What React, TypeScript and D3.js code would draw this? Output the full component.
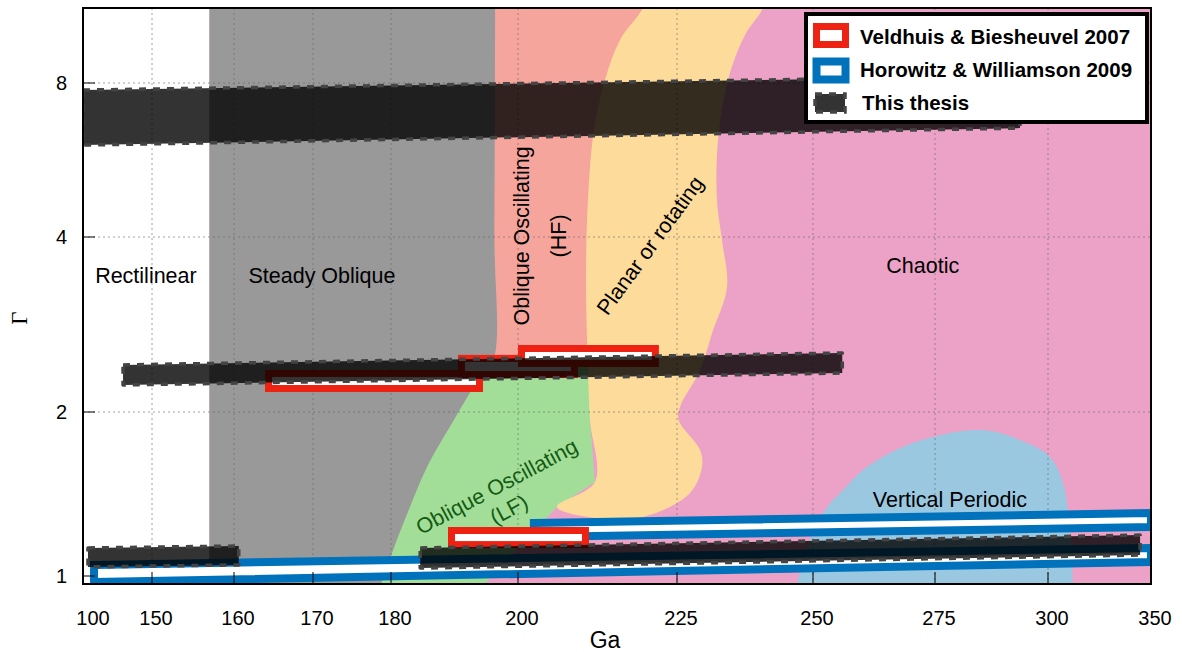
import React from 'react';
import * as d3 from 'd3';

// ---------- data ----------
const xTicks = [100, 150, 160, 170, 180, 200, 225, 250, 275, 300, 350];
const yTicks = [1, 2, 4, 8];

type P = [number, number]; // [Ga, Gamma]

const rectilinearLimit = 157;
const steadyObliqueEdge: P[] = [[196.4, 13], [196.3, 4], [196.07, 2.44], [193.23, 2.226], [190.08, 1.95], [185.67, 1.585], [182.99, 1.339], [180.63, 1.14], [178.2, 0.92]];
const hfRegion: P[] = [[190, 13], [222, 13], [222, 2.42], [190, 2.42]];
const lfRegion: P[] = [[175, 2.42], [211.3, 2.42], [211.32, 1.934], [212.1, 1.488], [206.13, 1.339], [193, 0.92], [175, 0.92]];
const planarRegion: P[] = [[221.5, 13], [219.65, 11.21], [216.03, 9.71], [213.68, 8.11], [211.95, 6.48], [211.0, 4.72], [210.69, 3.37], [211.0, 2.38], [211.32, 1.934], [212.1, 1.488], [206.13, 1.339], [214.93, 1.27], [221.22, 1.3], [227.39, 1.42], [229.6, 1.585], [229.23, 1.703], [225.3, 1.934], [225.55, 2.04], [229.23, 2.36], [231.43, 2.73], [234.19, 3.28], [233.27, 3.95], [232.35, 4.72], [232.54, 6.19], [234.37, 8.11], [237.5, 9.93], [240.8, 11.21], [242.5, 13]];
const verticalPeriodicRegion: P[] = [[246.5, 0.9], [248.16, 1.07], [252.05, 1.305], [256.56, 1.45], [261.06, 1.585], [270.49, 1.754], [284.95, 1.853], [293.8, 1.777], [300.97, 1.654], [306.8, 1.5], [309.2, 1.361], [311.16, 1.14], [312.3, 0.9]];

// "This thesis" bands: Ga range, gamma at top (left,right), bottom (left,right)
const thesisGa: P[] = [[100, 293.8], [129, 256], [103.6, 160.6], [184.6, 344.7]];
const thesisTop: P[] = [[7.75, 8.25], [2.41, 2.527], [1.126, 1.135], [1.126, 1.189]];
const thesisBottom: P[] = [[6.05, 6.53], [2.226, 2.334], [1.039, 1.048], [1.034, 1.093]];

// Veldhuis & Biesheuvel 2007 boxes: Ga range, Gamma range
const veldhuisGa: P[] = [[164.37, 193.94], [191.1, 208.88], [200.55, 221.6], [189.53, 210.61]];
const veldhuisGamma: P[] = [[2.195, 2.33], [2.32, 2.473], [2.424, 2.572], [1.142, 1.212]];

// Horowitz & Williamson 2009 boxes
const horowitzGa: P[] = [[108, 350], [202.5, 350]];
const horowitzTop: P[] = [[1.048, 1.126], [1.251, 1.305]];
const horowitzBottom: P[] = [[0.975, 1.061], [1.179, 1.23]];

const regionLabels = [
  { text: 'Rectilinear', ga: 145.6, gamma: 3.43 },
  { text: 'Steady Oblique', ga: 171.15, gamma: 3.43 },
  { text: 'Chaotic', ga: 272.5, gamma: 3.58 },
  { text: 'Vertical Periodic', ga: 278.3, gamma: 1.379 },
];

const legendItems = ['Veldhuis & Biesheuvel 2007', 'Horowitz & Williamson 2009', 'This thesis'];

// ---------- layout ----------
const W = 1182, H = 652;
const L = 83, R = 1151, T = 8, B = 584;
const x = d3.scaleLinear().domain(xTicks).range([83, 152, 234, 313, 391, 518, 677, 813, 935, 1048, 1151]);
const y = d3.scaleLog().domain(yTicks).range([576, 412, 237, 83]);

const COLORS = {
  pink: '#eca1c6', salmon: '#f6a59d', green: '#a3de99', yellow: '#fddc9b', gray: '#999999', blue: '#9ac8e1',
  red: '#ee2212', blueBox: '#0072bb',
};
const FONT = "'Liberation Sans', Arial, Helvetica, sans-serif";

const lineGen = (curve: any) => d3.line<P>().x(d => x(d[0])).y(d => y(d[1])).curve(curve);
const poly = (pts: P[]) => lineGen(d3.curveLinearClosed)(pts) as string;

export default function App() {
  const grayPath = (lineGen(d3.curveCatmullRom.alpha(0.5))(steadyObliqueEdge) as string)
    + `L${x(rectilinearLimit)},${y(0.92)}L${x(rectilinearLimit)},${y(13)}Z`;
  const yellowPath = (lineGen(d3.curveCatmullRom.alpha(0.5))(planarRegion) as string) + 'Z';
  const bluePath = (lineGen(d3.curveCatmullRom.alpha(0.5))(verticalPeriodicRegion) as string) + 'Z';

  const bandPoly = (i: number) => {
    const [g0, g1] = thesisGa[i];
    return poly([[g0, thesisTop[i][0]], [g1, thesisTop[i][1]], [g1, thesisBottom[i][1]], [g0, thesisBottom[i][0]]]);
  };
  const hwPoly = (i: number) => {
    const [g0, g1] = horowitzGa[i];
    return poly([[g0, horowitzTop[i][0]], [g1, horowitzTop[i][1]], [g1, horowitzBottom[i][1]], [g0, horowitzBottom[i][0]]]);
  };

  const hf = { ga: 203.46, gamma: 4.02 };
  const planar = { ga: 220.75, gamma: 3.87 };
  const lf = { ga: 197.6, gamma: 1.391 };

  return (
    <svg width={W} height={H} style={{ position: 'absolute', left: 0, top: 0, background: '#fff' }} fontFamily={FONT}>
      <defs>
        <clipPath id="plot"><rect x={L} y={T} width={R - L} height={B - T} /></clipPath>
      </defs>
      <g clipPath="url(#plot)">
        <rect x={L} y={T} width={R - L} height={B - T} fill={COLORS.pink} />
        <rect x={L} y={T} width={x(rectilinearLimit) - L} height={B - T} fill="#fff" />
        <path d={poly(hfRegion)} fill={COLORS.salmon} />
        <path d={poly(lfRegion)} fill={COLORS.green} />
        <path d={yellowPath} fill={COLORS.yellow} />
        <path d={grayPath} fill={COLORS.gray} />
        <path d={bluePath} fill={COLORS.blue} />

        {/* grid */}
        {xTicks.slice(1, -1).map(t => (
          <line key={'gx' + t} x1={x(t)} x2={x(t)} y1={T} y2={B} stroke="#666" strokeOpacity={0.6} strokeWidth={1} strokeDasharray="2 3" />
        ))}
        {yTicks.slice(1).map(t => (
          <line key={'gy' + t} x1={L} x2={R} y1={y(t)} y2={y(t)} stroke="#666" strokeOpacity={0.6} strokeWidth={1} strokeDasharray="2 3" />
        ))}

        {/* Horowitz & Williamson */}
        {horowitzGa.map((_, i) => (
          <path key={'hw' + i} d={hwPoly(i)} fill="#fff" stroke={COLORS.blueBox} strokeWidth={8} />
        ))}
        {/* Veldhuis & Biesheuvel */}
        {veldhuisGa.map((g, i) => (
          <rect key={'vb' + i} x={x(g[0])} y={y(veldhuisGamma[i][1])} width={x(g[1]) - x(g[0])}
            height={y(veldhuisGamma[i][0]) - y(veldhuisGamma[i][1])} fill="#fff" stroke={COLORS.red} strokeWidth={7} />
        ))}
        {/* This thesis */}
        {thesisGa.map((_, i) => (
          <path key={'th' + i} d={bandPoly(i)} fill="#000" fillOpacity={0.8} stroke="#444" strokeWidth={3.5}
            strokeDasharray="7 7" strokeLinejoin="round" />
        ))}
      </g>

      {/* ticks */}
      {xTicks.slice(1, -1).map(t => (
        <line key={'tx' + t} x1={x(t)} x2={x(t)} y1={B} y2={B - 12} stroke="#000" strokeWidth={1} />
      ))}
      {yTicks.map(t => (
        <line key={'ty' + t} x1={L} x2={L + 12} y1={y(t)} y2={y(t)} stroke="#000" strokeWidth={1} />
      ))}
      <rect x={L} y={T} width={R - L} height={B - T} fill="none" stroke="#000" strokeWidth={2} />

      {/* tick labels */}
      {xTicks.map((t, i) => (
        <text key={'lx' + t} x={i === 0 ? x(t) + 10 : x(t) + 4} y={625} fontSize={20} textAnchor="middle" fill="#000">{t}</text>
      ))}
      {yTicks.map(t => (
        <text key={'ly' + t} x={67} y={y(t)} dy="0.35em" fontSize={20} textAnchor="end" fill="#000">{t}</text>
      ))}
      <text x={605} y={648} fontSize={23} textAnchor="middle">Ga</text>
      <text transform="translate(27,318) rotate(-90)" fontSize={23} textAnchor="middle" fontFamily="'Liberation Serif', 'DejaVu Serif', serif">Γ</text>

      {/* region labels */}
      {regionLabels.map(l => (
        <text key={l.text} x={x(l.ga)} y={y(l.gamma)} dy="0.35em" fontSize={21.5} textAnchor="middle" fill="#000">{l.text}</text>
      ))}
      <g transform={`translate(${x(hf.ga)},${y(hf.gamma)}) rotate(-90)`}>
        <text y={-19} dy="0.35em" fontSize={21.5} textAnchor="middle">Oblique Oscillating</text>
        <text y={18} dy="0.35em" fontSize={21.5} textAnchor="middle">(HF)</text>
      </g>
      <g transform={`translate(${x(planar.ga)},${y(planar.gamma)}) rotate(-54)`}>
        <text dy="0.35em" fontSize={21.5} textAnchor="middle">Planar or rotating</text>
      </g>
      <g transform={`translate(${x(lf.ga)},${y(lf.gamma)}) rotate(-28)`} fill="#135a13">
        <text y={-13} dy="0.35em" fontSize={21.5} textAnchor="middle">Oblique Oscillating</text>
        <text y={13} dy="0.35em" fontSize={21.5} textAnchor="middle">(LF)</text>
      </g>

      {/* legend */}
      <g>
        <rect x={806} y={14} width={341} height={108} fill="#fff" stroke="#000" strokeWidth={4} />
        <rect x={816.5} y={26.5} width={29} height={18} fill="#fff" stroke={COLORS.red} strokeWidth={7} />
        <rect x={816.5} y={61.5} width={29} height={18} fill="#fff" stroke={COLORS.blueBox} strokeWidth={8} />
        <rect x={815} y={94} width={30} height={18} fill="#000" fillOpacity={0.8} stroke="#444" strokeWidth={3.5} strokeDasharray="7 7" />
        {legendItems.map((t, i) => (
          <text key={t} x={i === 2 ? 862 : 860} y={[37, 70, 103][i]} dy="0.35em" fontSize={20.5} fontWeight="bold">{t}</text>
        ))}
      </g>
    </svg>
  );
}
